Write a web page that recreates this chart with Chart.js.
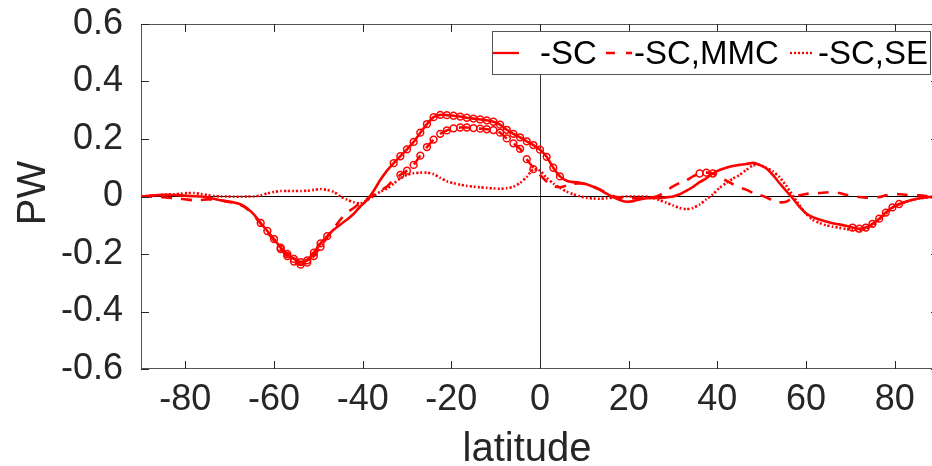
<!DOCTYPE html>
<html>
<head>
<meta charset="utf-8">
<script src="https://cdn.jsdelivr.net/npm/chart.js@4/dist/chart.umd.min.js"></script>
<style>
html, body { margin: 0; padding: 0; background: #fff; overflow: hidden; }
#wrap { width: 945px; height: 466px; }
</style>
</head>
<body>
<div id="wrap"><canvas id="pw" width="945" height="466"></canvas></div>
<script>
// latitude grid (deg)
const latitude = [
  -90, -88.5, -87, -85.5, -84, -82.5, -81, -79.5, -78, -76.5,
  -75, -73.5, -72, -70.5, -69, -67.5, -66, -64.5, -63, -61.5,
  -60, -58.5, -57, -55.5, -54, -52.5, -51, -49.5, -48, -46.5,
  -45, -43.5, -42, -40.5, -39, -37.5, -36, -34.5, -33, -31.5,
  -30, -28.5, -27, -25.5, -24, -22.5, -21, -19.5, -18, -16.5,
  -15, -13.5, -12, -10.5, -9, -7.5, -6, -4.5, -3, -1.5,
  0, 1.5, 3, 4.5, 6, 7.5, 9, 10.5, 12, 13.5,
  15, 16.5, 18, 19.5, 21, 22.5, 24, 25.5, 27, 28.5,
  30, 31.5, 33, 34.5, 36, 37.5, 39, 40.5, 42, 43.5,
  45, 46.5, 48, 49.5, 51, 52.5, 54, 55.5, 57, 58.5,
  60, 61.5, 63, 64.5, 66, 67.5, 69, 70.5, 72, 73.5,
  75, 76.5, 78, 79.5, 81, 82.5, 84, 85.5, 87, 88.5,
  90
];

// PW response
const pwSC = [
  0, 0.002, 0.004, 0.006, 0.006, 0.005, 0.004, 0.002, 0.001, 0,
  -0.003, -0.008, -0.013, -0.017, -0.021, -0.028, -0.042, -0.063, -0.092, -0.12,
  -0.148, -0.178, -0.2, -0.217, -0.228, -0.222, -0.195, -0.163, -0.138, -0.115,
  -0.097, -0.08, -0.06, -0.034, -0.012, 0.02, 0.058, 0.09, 0.116, 0.14,
  0.164, 0.19, 0.222, 0.252, 0.276, 0.284, 0.283, 0.281, 0.278, 0.274,
  0.271, 0.268, 0.265, 0.26, 0.25, 0.232, 0.218, 0.206, 0.192, 0.179,
  0.163, 0.138, 0.1, 0.07, 0.055, 0.05, 0.048, 0.043, 0.034, 0.023,
  0.01, -0.002, -0.012, -0.018, -0.016, -0.01, -0.006, -0.005, -0.005, -0.003,
  0, 0.008, 0.02, 0.033, 0.05, 0.063, 0.08, 0.092, 0.1, 0.106,
  0.11, 0.113, 0.117, 0.11, 0.098, 0.075, 0.047, 0.02, -0.006, -0.035,
  -0.058, -0.072, -0.08, -0.087, -0.093, -0.097, -0.102, -0.108, -0.112, -0.108,
  -0.095, -0.077, -0.056, -0.038, -0.026, -0.018, -0.011, -0.006, -0.003, -0.001,
  0
];
const pwMMC = [
  0, 0, -0.001, -0.002, -0.004, -0.006, -0.008, -0.011, -0.013, -0.012,
  -0.01, -0.011, -0.014, -0.018, -0.022, -0.03, -0.044, -0.066, -0.095, -0.124,
  -0.153, -0.183, -0.207, -0.226, -0.237, -0.23, -0.207, -0.175, -0.143, -0.11,
  -0.08, -0.055, -0.04, -0.022, -0.008, 0.006, 0.02, 0.035, 0.058, 0.075,
  0.09, 0.11, 0.142, 0.172, 0.198, 0.218, 0.23, 0.237, 0.24, 0.24,
  0.238, 0.236, 0.234, 0.231, 0.222, 0.202, 0.185, 0.166, 0.13, 0.1,
  0.075, 0.052, 0.036, 0.032, 0.038, 0.044, 0.045, 0.043, 0.035, 0.025,
  0.013, 0.002, -0.004, -0.006, -0.006, -0.005, -0.004, -0.003, 0.005, 0.02,
  0.035, 0.047, 0.056, 0.07, 0.08, 0.083, 0.08, 0.066, 0.055, 0.043,
  0.032, 0.024, 0.013, 0.006, -0.003, -0.013, -0.02, -0.018, -0.005, 0.004,
  0.009, 0.011, 0.012, 0.014, 0.015, 0.012, 0.006, 0.002, -0.002, -0.004,
  -0.005, -0.002, 0.004, 0.008, 0.008, 0.006, 0.005, 0.004, 0.002, 0.001,
  0
];
const pwSE = [
  0, 0.002, 0.004, 0.005, 0.007, 0.008, 0.01, 0.012, 0.012, 0.009,
  0.005, 0.002, 0, 0, -0.001, -0.001, 0, 0, 0.004, 0.011,
  0.016, 0.019, 0.019, 0.019, 0.019, 0.02, 0.023, 0.026, 0.023, 0.016,
  0, -0.011, -0.02, -0.024, -0.013, 0.002, 0.017, 0.028, 0.045, 0.063,
  0.075, 0.081, 0.083, 0.083, 0.078, 0.065, 0.053, 0.046, 0.041, 0.037,
  0.034, 0.032, 0.03, 0.028, 0.027, 0.029, 0.034, 0.047, 0.068, 0.095,
  0.09, 0.065, 0.045, 0.03, 0.017, 0.008, 0.001, -0.005, -0.007, -0.008,
  -0.006, -0.004, -0.002, 0, 0, 0, 0, -0.005, -0.013, -0.022,
  -0.031, -0.04, -0.044, -0.04, -0.028, -0.01, 0.008, 0.03, 0.047, 0.062,
  0.075, 0.092, 0.108, 0.11, 0.1, 0.088, 0.068, 0.038, 0.004, -0.03,
  -0.06, -0.081, -0.092, -0.1, -0.105, -0.109, -0.113, -0.116, -0.117, -0.112,
  -0.1, -0.08, -0.06, -0.04, -0.028, -0.019, -0.012, -0.007, -0.004, -0.002,
  0
];

// latitude bands where each curve carries open circles
const sigSC = [[-63, -48], [-33, 4.5], [70.5, 81]];
const sigMMC = [[-58.5, -49.5], [-31.5, -3], [36, 39]];
const sigSE = [[-1.5, -1.5]];

const seriesNames = ['-SC', '-SC,MMC', '-SC,SE'];
const xTicks = [-80, -60, -40, -20, 0, 20, 40, 60, 80];
const yTicks = [-0.6, -0.4, -0.2, 0, 0.2, 0.4, 0.6];
const xTitle = 'latitude';
const yTitle = 'PW';

const RED = '#ff0000';
const INK = '#262626';
const FONT = '"Liberation Sans", Arial, Helvetica, sans-serif';

function series(values, sig, name, dash) {
  return {
    label: name,
    data: latitude.map((lat, i) => ({ x: lat, y: values[i] })),
    borderColor: RED,
    borderWidth: 2.6,
    borderDash: dash,
    tension: 0.2,
    fill: false,
    pointStyle: 'circle',
    pointBackgroundColor: 'rgba(0,0,0,0)',
    pointBorderColor: RED,
    pointBorderWidth: 1.5,
    pointRadius: ctx => {
      const lat = latitude[ctx.dataIndex];
      return sig.some(r => lat >= r[0] && lat <= r[1]) ? 3.4 : 0;
    },
    pointHoverRadius: 0
  };
}

// frame with inward ticks, axis titles and the boxed legend
const decor = {
  id: 'decor',
  afterDatasetsDraw(chart) {
    const { ctx, chartArea: a, scales: { x, y } } = chart;
    ctx.save();
    ctx.strokeStyle = '#555';
    ctx.lineWidth = 1;
    ctx.strokeRect(a.left + 0.5, a.top + 0.5, a.right - a.left - 1, a.bottom - a.top - 1);
    ctx.strokeStyle = INK;
    ctx.beginPath();
    xTicks.forEach(v => {
      const px = Math.round(x.getPixelForValue(v)) + 0.5;
      ctx.moveTo(px, a.bottom); ctx.lineTo(px, a.bottom - 8);
      ctx.moveTo(px, a.top); ctx.lineTo(px, a.top + 8);
    });
    yTicks.forEach(v => {
      const py = Math.round(y.getPixelForValue(v)) + 0.5;
      ctx.moveTo(a.left, py); ctx.lineTo(a.left + 8, py);
      ctx.moveTo(a.right, py); ctx.lineTo(a.right - 8, py);
    });
    ctx.stroke();

    // axis titles
    ctx.fillStyle = INK;
    ctx.font = '40px ' + FONT;
    ctx.textAlign = 'center';
    ctx.textBaseline = 'alphabetic';
    ctx.fillText(xTitle, 527, 461);
    ctx.save();
    ctx.translate(45, 193);
    ctx.rotate(-Math.PI / 2);
    ctx.fillText(yTitle, 0, 0);
    ctx.restore();

    // legend
    ctx.fillStyle = '#fff';
    ctx.fillRect(492, 31, 438, 43);
    ctx.strokeStyle = '#555';
    ctx.strokeRect(492.5, 31.5, 438, 43);
    const items = [
      { x0: 493, x1: 519, tx: 540, dash: [] },
      { x0: 606, x1: 632, tx: 634, dash: [9, 11] },
      { x0: 790, x1: 812, tx: 818, dash: [2, 2] }
    ];
    ctx.font = '33px ' + FONT;
    ctx.textAlign = 'left';
    items.forEach((it, i) => {
      ctx.strokeStyle = RED;
      ctx.lineWidth = 2.3;
      ctx.setLineDash(it.dash);
      ctx.beginPath();
      ctx.moveTo(it.x0, 53); ctx.lineTo(it.x1, 53);
      ctx.stroke();
      ctx.setLineDash([]);
      ctx.fillStyle = '#000';
      ctx.fillText(seriesNames[i], it.tx, 64);
    });
    ctx.restore();
  }
};

new Chart(document.getElementById('pw'), {
  type: 'line',
  data: {
    datasets: [
      series(pwSC, sigSC, seriesNames[0], []),
      series(pwMMC, sigMMC, seriesNames[1], [11, 9]),
      series(pwSE, sigSE, seriesNames[2], [2, 2])
    ]
  },
  options: {
    responsive: false,
    animation: false,
    devicePixelRatio: 1,
    layout: { padding: { top: 24, right: 6, left: 0, bottom: 0 } },
    plugins: { legend: { display: false }, tooltip: { enabled: false } },
    scales: {
      x: {
        type: 'linear',
        min: -90,
        max: 90,
        afterBuildTicks: s => { s.ticks = xTicks.map(v => ({ value: v })); },
        afterFit: s => { s.height = 97; s.paddingLeft = 0; s.paddingRight = 0; },
        border: { display: false },
        grid: {
          drawTicks: false,
          lineWidth: 1,
          color: c => (c.tick && c.tick.value === 0 ? '#333' : 'rgba(0,0,0,0)')
        },
        ticks: {
          padding: 9,
          maxRotation: 0,
          autoSkip: false,
          color: INK,
          font: { family: FONT, size: 36 },
          callback: v => String(v)
        }
      },
      y: {
        min: -0.6,
        max: 0.6,
        afterBuildTicks: s => { s.ticks = yTicks.map(v => ({ value: v })); },
        afterFit: s => { s.width = 141; s.paddingTop = 0; s.paddingBottom = 0; },
        border: { display: false },
        grid: {
          drawTicks: false,
          lineWidth: 1,
          color: c => (c.tick && Math.abs(c.tick.value) < 1e-9 ? '#000' : 'rgba(0,0,0,0)')
        },
        ticks: {
          padding: 18,
          color: INK,
          font: { family: FONT, size: 36 },
          callback: v => (Math.abs(v) < 1e-9 ? '0' : v.toFixed(1))
        }
      }
    }
  },
  plugins: [decor]
});
</script>
</body>
</html>
